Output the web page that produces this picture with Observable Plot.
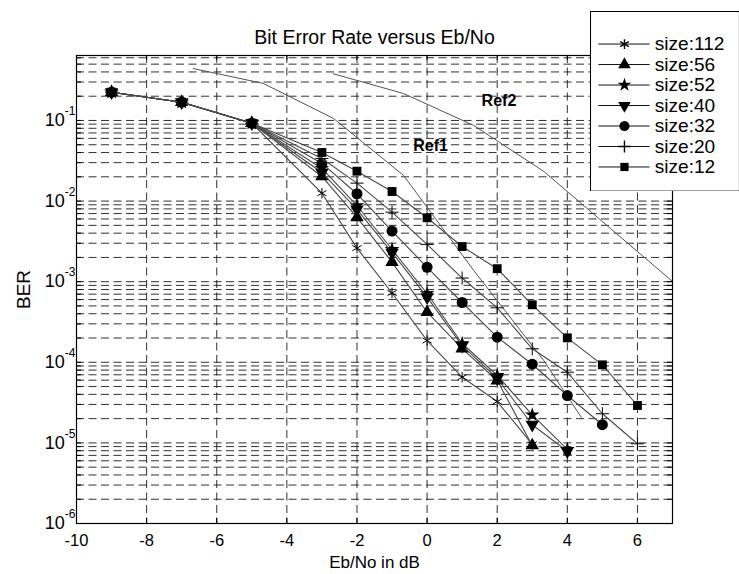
<!DOCTYPE html>
<html><head><meta charset="utf-8">
<script src="https://cdn.jsdelivr.net/npm/d3@7"></script>
<script src="https://cdn.jsdelivr.net/npm/@observablehq/plot@0.6"></script>
<style>
html,body{margin:0;padding:0;background:#fff;overflow:hidden;width:739px;height:574px;}
#wrap{position:relative;width:739px;height:574px;}
#legend{position:absolute;left:590px;top:11px;}
svg{font-family:"Liberation Sans",Arial,sans-serif;}
</style></head><body><div id="wrap"><div id="main"></div><div id="legend"></div></div>
<script>
// ---- data ----
const ebno = [-9, -7, -5, -3, -2, -1, 0, 1, 2, 3, 4, 5, 6];
const ber112 = [0.2245, 0.1686, 0.0926, 0.01253, 0.00261, 7.24e-4, 1.86e-4, 6.53e-5, 3.26e-5, 9.6e-6];
const ber56  = [0.2245, 0.1686, 0.0926, 0.0202, 0.00627, 0.00175, 4.18e-4, 1.48e-4, 5.94e-5, 9.3e-6];
const ber52  = [0.2245, 0.1686, 0.0926, 0.0254, 0.00881, 0.00251, 7.14e-4, 1.71e-4, 6.86e-5, 2.23e-5, 8.3e-6];
const ber40  = [0.2245, 0.1686, 0.0926, 0.0226, 0.00787, 0.0023, 6.43e-4, 1.61e-4, 6.3e-5, 1.68e-5, 7.89e-6];
const ber32  = [0.2245, 0.1686, 0.0926, 0.0293, 0.01233, 0.00424, 0.00151, 5.52e-4, 2.05e-4, 9.46e-5, 3.87e-5, 1.68e-5];
const ber20  = [0.2245, 0.1686, 0.0926, 0.0338, 0.0167, 0.00728, 0.0029, 0.00111, 4.74e-4, 1.47e-4, 7.53e-5, 2.30e-5, 9.75e-6];
const ber12  = [0.2245, 0.1686, 0.0926, 0.0401, 0.0235, 0.01315, 0.00621, 0.00273, 0.00145, 5.17e-4, 2.01e-4, 9.3e-5, 2.91e-5];
const ref1X = [-6.67, -4.67, -2.67, -0.67, 1.33, 3.33, 4.4];
const ref1Y = [0.441, 0.288, 0.106, 0.0208, 0.00138, 1.05e-4, 2.07e-5];
const ref2X = [-2.67, -0.67, 1.33, 3.33, 5.33, 7.33];
const ref2Y = [0.379, 0.216, 0.0867, 0.0233, 0.0042, 7.6e-4];
const seriesNames = ["size:112", "size:56", "size:52", "size:40", "size:32", "size:20", "size:12"];
const xTicks = [-10, -8, -6, -4, -2, 0, 2, 4, 6];
const yTicks = [1e-6, 1e-5, 1e-4, 1e-3, 1e-2, 1e-1];
const refLabels = [{text: "Ref1", x: 0.1, y: 0.049}, {text: "Ref2", x: 2.05, y: 0.177}];
const titleText = "Bit Error Rate versus Eb/No";
const xLabel = "Eb/No in dB";
const yLabel = "BER";

// ---- symbols ----
const triangleDown = {
  draw(context, size) {
    const y = -Math.sqrt(size / (Math.sqrt(3) * 3));
    context.moveTo(0, -y * 2);
    context.lineTo(-Math.sqrt(3) * y, y);
    context.lineTo(Math.sqrt(3) * y, y);
    context.closePath();
  }
};
const styleOf = {
  "size:112": {symbol: "asterisk", fill: "none", stroke: "black", r: 5},
  "size:56":  {symbol: "triangle", fill: "black", stroke: "none", r: 5},
  "size:52":  {symbol: "star", fill: "black", stroke: "none", r: 4.6},
  "size:40":  {symbol: triangleDown, fill: "black", stroke: "none", r: 5},
  "size:32":  {symbol: "circle", fill: "black", stroke: "none", r: 5.5},
  "size:20":  {symbol: "plus", fill: "none", stroke: "black", r: 4.3},
  "size:12":  {symbol: "square", fill: "black", stroke: "none", r: 5}
};
const valuesOf = {"size:112": ber112, "size:56": ber56, "size:52": ber52, "size:40": ber40, "size:32": ber32, "size:20": ber20, "size:12": ber12};
const rowsOf = name => valuesOf[name].map((v, i) => ({x: ebno[i], y: v}));
const ref1 = ref1X.map((x, i) => ({x, y: ref1Y[i]}));
const ref2 = ref2X.map((x, i) => ({x, y: ref2Y[i]}));

const yDomain = [1e-6, 0.64];
const gridY = [];
for (let k = -6; k <= -1; k++) for (let i = 1; i <= 9; i++) {
  const v = i * Math.pow(10, k);
  if (v > yDomain[0] && v < yDomain[1]) gridY.push(v);
}
const gridX = xTicks.filter(d => d > -10);

const dash = {stroke: "#1a1a1a", strokeDasharray: "8,4.5", strokeWidth: 0.9};
const seriesMarks = seriesNames.flatMap(name => {
  const s = styleOf[name];
  return [
    Plot.line(rowsOf(name), {x: "x", y: "y", stroke: "#4a4a4a", strokeWidth: 1.1}),
    Plot.dot(rowsOf(name), {x: "x", y: "y", symbol: s.symbol, r: s.r, fill: s.fill, stroke: s.stroke, strokeWidth: 1})
  ];
});

const main = Plot.plot({
  width: 739, height: 574,
  marginLeft: 76, marginRight: 67, marginTop: 55, marginBottom: 51,
  style: {fontFamily: "'Liberation Sans', Arial, sans-serif", fontSize: "18px", background: "white", color: "black"},
  x: {domain: [-10, 7]},
  y: {type: "log", domain: yDomain},
  marks: [
    Plot.ruleY(gridY, {y: d => d, ...dash}),
    Plot.ruleX(gridX, {x: d => d, ...dash}),
    Plot.tickY(gridY, {y: d => d, insetRight: 591, stroke: "black"}),
    Plot.tickY(gridY, {y: d => d, insetLeft: 591, stroke: "black"}),
    Plot.tickX(gridX, {x: d => d, insetTop: 463, stroke: "black"}),
    Plot.tickX(gridX, {x: d => d, insetBottom: 463, stroke: "black"}),
    Plot.line(ref1, {x: "x", y: "y", stroke: "#555", strokeWidth: 1, clip: true}),
    Plot.line(ref2, {x: "x", y: "y", stroke: "#555", strokeWidth: 1, clip: true}),
    ...seriesMarks,
    Plot.text(refLabels, {x: "x", y: "y", text: "text", fontWeight: "bold", fontSize: 16, fill: "black"}),
    Plot.frame({stroke: "black", strokeWidth: 1.2}),
    Plot.axisX(xTicks, {tickSize: 0, tickPadding: 11, tickFormat: d => String(d), fontSize: 16.5, label: null}),
    Plot.axisY(yTicks, {tickSize: 0, tickPadding: 14, tickFormat: d => String(Math.round(Math.log10(d))), fontSize: 18, label: null}),
    Plot.text([titleText], {frameAnchor: "top", lineAnchor: "middle", dy: -18, fontSize: 19.5}),
    Plot.text([xLabel], {frameAnchor: "bottom", lineAnchor: "middle", dy: 39.5, fontSize: 17}),
    Plot.text([yLabel], {frameAnchor: "left", textAnchor: "middle", lineAnchor: "middle", dx: -53, rotate: -90, fontSize: 19})
  ]
});
document.getElementById("main").appendChild(main);

// superscript exponents for the log axis labels
main.querySelectorAll('g[aria-label="y-axis tick label"] text').forEach(t => {
  const e = t.textContent;
  t.textContent = "10";
  const ts = document.createElementNS("http://www.w3.org/2000/svg", "tspan");
  ts.setAttribute("dy", "-11");
  ts.setAttribute("font-size", "12");
  ts.textContent = e;
  t.appendChild(ts);
  t.setAttribute("dx", "13");
});

// legend
const legend = Plot.plot({
  width: 160, height: 193, margin: 0,
  style: {fontFamily: "'Liberation Sans', Arial, sans-serif", fontSize: "20px", background: "transparent"},
  x: {domain: [0, 160], range: [0, 160], axis: null},
  y: {type: "point", domain: seriesNames, range: [20.7, 180.7], axis: null},
  marks: [
    Plot.frame({stroke: "black", fill: "white", strokeWidth: 1.2}),
    Plot.ruleY(seriesNames, {y: d => d, x1: 9, x2: 64, stroke: "black", strokeWidth: 1}),
    ...seriesNames.map(name => {
      const s = styleOf[name];
      return Plot.dot([name], {x: 36.5, y: d => d, symbol: s.symbol, r: s.r, fill: s.fill, stroke: s.stroke});
    }),
    Plot.text(seriesNames, {x: 69, y: d => d, text: d => d, textAnchor: "start", fontSize: 20.5, fill: "black"})
  ]
});
document.getElementById("legend").appendChild(legend);
</script>
</body></html>
